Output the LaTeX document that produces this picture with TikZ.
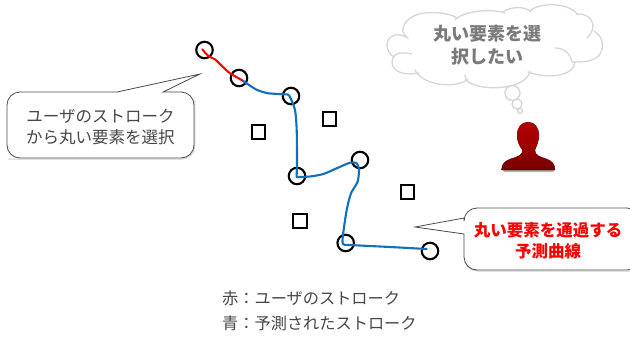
\documentclass[tikz,border=0pt]{standalone}
\usepackage{fontspec}
\setmainfont{Noto Sans CJK JP}
\usetikzlibrary{calc}
\definecolor{strokeblue}{HTML}{0F70BE}
\definecolor{cloudline}{HTML}{D6D6D6}
\definecolor{calloutline}{HTML}{4A4A4A}
\tikzset{
  x=1pt,y=-1pt,
  ring/.style={circle,draw=black,line width=2.1pt,minimum size=16.5pt,inner sep=0pt},
  target/.style={rectangle,draw=black,line width=2.1pt,minimum size=13.5pt,inner sep=0pt},
  redstroke/.style={draw=red,line width=2.1pt,line cap=round,line join=round},
  bluestroke/.style={draw=strokeblue,line width=2.1pt,line cap=round,line join=round},
  callout/.style={draw=calloutline,line width=0.8pt,fill=white,line join=miter},
  calloutshadow/.style={draw=black!18,line width=1pt},
  note/.style={inner sep=0pt,align=center,text=black!72,font=\fontsize{16.5}{21}\selectfont},
  rednote/.style={inner sep=0pt,align=center,text=red,font=\fontsize{16.5}{21}\selectfont\bfseries},
  wish/.style={inner sep=0pt,align=center,text=black!52,font=\fontsize{18}{23}\selectfont\bfseries},
  legend/.style={inner sep=0pt,anchor=west,text=black!72,font=\fontsize{16.2}{22}\selectfont},
  cloudedge/.style={draw=cloudline,line width=1.3pt,line cap=round},
  bubble/.style={circle,draw=cloudline,line width=1.3pt,inner sep=0pt},
}
\begin{document}
\begin{tikzpicture}
\useasboundingbox (0,0) rectangle (630,338);
\fill[white] (0,0) rectangle (630,338);

% callout 1
\draw[calloutshadow,rounded corners=13pt] (8,159) -- (194.8,159) -- (194.8,100);
\draw[callout] (117,92) -- (200,74) -- (163,92) [rounded corners=13pt] -- (194,92) -- (194,158) -- (7,158) -- (7,92) [sharp corners] -- cycle;
\node[note] (leftnote) at (100.5,127.5) {ユーザのストローク\\から丸い要素を選択};

% callout 2
\draw[calloutshadow,rounded corners=13pt] (464.5,250) -- (464.5,271) -- (640,271);
\draw[callout] (464,218) -- (415,227) -- (464,234) [rounded corners=13pt] -- (464,270) -- (640,270) -- (640,208) -- (464,208) [sharp corners] -- cycle;
\node[rednote] (rightnote) at (548,241) {丸い要素を通過する\\予測曲線};

% targets
\node[target] (s1) at (258.5,132) {};
\node[target] (s2) at (329.5,119) {};
\node[target] (s3) at (407.5,192) {};
\node[target] (s4) at (300,221) {};

% rings
\node[ring] (c1) at (204.5,50) {};
\node[ring] (c2) at (239,78) {};
\node[ring] (c3) at (291,96) {};
\node[ring] (c4) at (297,176) {};
\node[ring] (c5) at (360,160) {};
\node[ring] (c6) at (345.7,243) {};
\node[ring] (c7) at (430,251) {};

% strokes
\draw[bluestroke] plot[smooth,tension=0.45] coordinates {(241.7,80) (249,85) (257.3,90) (268.3,93.3) (285,94.3) (289.3,95.7) (295,110) (296.7,130) (297,160) (296.6,177)};
\draw[bluestroke] plot[smooth,tension=0.45] coordinates {(297,177) (310,176.5) (323.3,174) (336.7,168.3) (350,162.7) (356.7,163.3) (359,170) (357.5,182) (351,193.3) (346.7,210) (343,235) (343,244) (350,245) (390,247) (426.7,249)};
\draw[redstroke] plot[smooth,tension=0.45] coordinates {(202.3,49.3) (208.3,56) (215,59.3) (223.3,67.3) (230,73.3) (241.7,80)};

% cloud
\draw[cloudedge] (408,38) .. controls (395,30) and (408,14) .. (425,13) .. controls (437,12) and (449,13) .. (457,18);
\draw[cloudedge] (455,20) .. controls (463,11) and (490,8) .. (505,13);
\draw[cloudedge] (503,12) .. controls (512,6) and (525,6) .. (531,12);
\draw[cloudedge] (530,11) .. controls (537,3) and (568,1) .. (578,15);
\draw[cloudedge] (576,14) .. controls (590,12) and (600,26) .. (587,38);
\draw[cloudedge] (594,31) .. controls (606,38) and (604,53) .. (596,58) .. controls (590,62) and (580,62) .. (572,62);
\draw[cloudedge] (572,62) .. controls (570,53) and (564,48) .. (555,48);
\draw[cloudedge] (575,62) .. controls (575,75) and (550,80) .. (528,72);
\draw[cloudedge] (530,71) .. controls (526,90) and (485,91) .. (470,83) .. controls (466,81) and (465,78) .. (465,75);
\draw[cloudedge] (468,79) .. controls (458,88) and (430,86) .. (420,76) .. controls (417,74) and (416,72) .. (415,70);
\draw[cloudedge] (419,73) .. controls (405,76) and (392,72) .. (392,62) .. controls (392,56) and (396,54) .. (400,53) .. controls (404,53) and (408,53) .. (412,54);
\draw[cloudedge] (394,57) .. controls (385,52) and (384,38) .. (395,35) .. controls (399,34) and (404,36) .. (408,38);
\node[wish] (thought) at (487,45.5) {丸い要素を選\\択したい};
\node[bubble,minimum size=15pt] (b1) at (512.5,93) {};
\node[bubble,minimum size=10pt] (b2) at (517,104) {};
\node[bubble,minimum size=5pt] (b3) at (520,111) {};

% person
\fill[black!30] (503,170) -- (554,170) -- (553,172) -- (504,172) -- cycle;
\fill[top color=red!70!black,bottom color=red!45!black,middle color=red!62!black]
  (528,122) .. controls (535,122) and (539,128) .. (539,135)
  .. controls (539,142) and (536,147) .. (535,150)
  .. controls (534.5,155) and (540,157) .. (547,159)
  .. controls (552,161) and (555,164) .. (555,170)
  -- (501.5,170)
  .. controls (501.5,164) and (505,161) .. (510,159)
  .. controls (517,157) and (523,155) .. (522.5,150)
  .. controls (520,147) and (517,142) .. (517,135)
  .. controls (517,128) and (521,122) .. (528,122) -- cycle;

% legend
\node[legend] (l1) at (222,298) {赤：ユーザのストローク};
\node[legend] (l2) at (222,323.5) {青：予測されたストローク};
\end{tikzpicture}
\end{document}
